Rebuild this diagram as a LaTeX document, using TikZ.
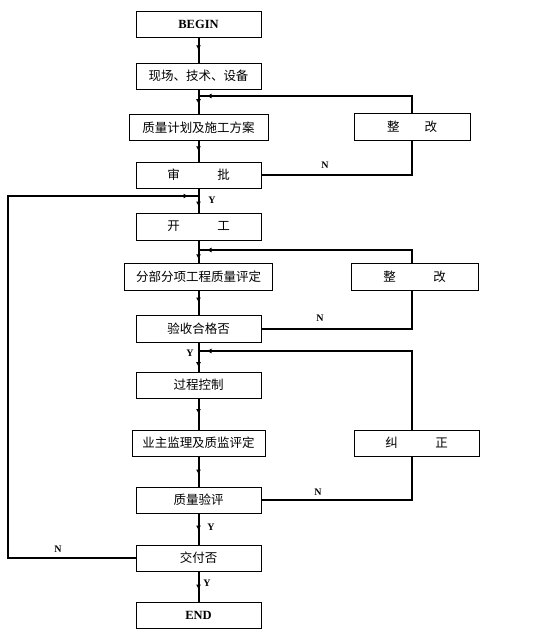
\documentclass[tikz,border=0pt]{standalone}
\usepackage{fontspec}
\setmainfont{Liberation Serif}
\newfontfamily\cjk{Noto Sans CJK SC}
\usetikzlibrary{arrows.meta,decorations.markings}
\tikzset{
  box/.style={draw, line width=0.8pt, inner sep=0pt, font=\cjk\fontsize{12.5}{14}\selectfont, minimum width=125pt, minimum height=26pt},
  conn/.style={line width=2pt},
  midarr/.style={postaction={decorate,decoration={markings,mark=at position #1 with {\arrow{Latex[length=5pt,width=5pt]}}}}},
  lbl/.style={font=\bfseries\fontsize{10}{12}\selectfont, inner sep=0pt}
}
\begin{document}
\begin{tikzpicture}[x=1pt,y=-1pt]
\useasboundingbox (0,0) rectangle (542,633);
% main column
\node[box] (b1) at (198.5,24.5) {\rmfamily\bfseries BEGIN};
\node[box] (b2) at (198.5,76) {现场、技术、设备};
\node[box, minimum width=139pt] (b3) at (198.5,127.5) {质量计划及施工方案};
\node[box] (b4) at (198.5,175) {审\hspace{3em}批};
\node[box, minimum height=27pt] (b5) at (198.5,226.5) {开\hspace{3em}工};
\node[box, minimum width=148pt, minimum height=27pt] (b6) at (198.5,276.5) {分部分项工程质量评定};
\node[box, minimum height=27pt] (b7) at (198.5,328.5) {验收合格否};
\node[box] (b8) at (198.5,385) {过程控制};
\node[box, minimum width=133pt] (b9) at (198.5,443) {业主监理及质监评定};
\node[box] (b10) at (198.5,500) {质量验评};
\node[box] (b11) at (198.5,558) {交付否};
\node[box] (b12) at (198.5,615) {\rmfamily\bfseries END};
% right column
\coordinate (col) at (412,0);
\node[box, minimum width=116pt, minimum height=27pt] (r1) at (412,126.5) {整\hspace{2em}改};
\node[box, minimum width=127pt, minimum height=27pt] (r2) at (414.5,276.5) {整\hspace{3em}改};
\node[box] (r3) at (416.5,443) {纠\hspace{3em}正};
% junctions
\coordinate (j1) at (198.5,96);
\coordinate (j2) at (198.5,250);
\coordinate (j3) at (198.5,351);
\coordinate (j4) at (198.5,196);
% main vertical connectors
\draw[conn, midarr=0.5] (b1.south) -- (b2.north);
\draw[conn, midarr=0.6] (b2.south) -- (b3.north);
\draw[conn, midarr=0.5] (b3.south) -- (b4.north);
\draw[conn, midarr=0.75] (b4.south) -- (b5.north);
\draw[conn, midarr=0.85] (b5.south) -- (b6.north);
\draw[conn, midarr=0.5] (b6.south) -- (b7.north);
\draw[conn, midarr=0.85] (b7.south) -- (b8.north);
\draw[conn, midarr=0.5] (b8.south) -- (b9.north);
\draw[conn, midarr=0.6] (b9.south) -- (b10.north);
\draw[conn, midarr=0.55] (b10.south) -- (b11.north);
\draw[conn, midarr=0.6] (b11.south) -- (b12.north);
% feedback loops
\draw[conn] (b4.east) -| (r1.south -| col);
\draw[conn, midarr=-8pt] (r1.north -| col) |- (j1);
\draw[conn] (b7.east) -| (r2.south -| col);
\draw[conn, midarr=-8pt] (r2.north -| col) |- (j2);
\draw[conn] (b10.east) -| (r3.south -| col);
\draw[conn, midarr=-8pt] (r3.north -| col) |- (j3);
\draw[conn, midarr=-10pt] (b11.west) -- (8,558) -- (8,196) -- (j4);
% labels
\node[lbl] (n1) at (325,165) {N};
\node[lbl] (n2) at (320,318) {N};
\node[lbl] (n3) at (318,492) {N};
\node[lbl] (n4) at (58,549) {N};
\node[lbl] (y1) at (212,200) {Y};
\node[lbl] (y2) at (190,353) {Y};
\node[lbl] (y3) at (211,527) {Y};
\node[lbl] (y4) at (207,583) {Y};
\end{tikzpicture}
\end{document}
